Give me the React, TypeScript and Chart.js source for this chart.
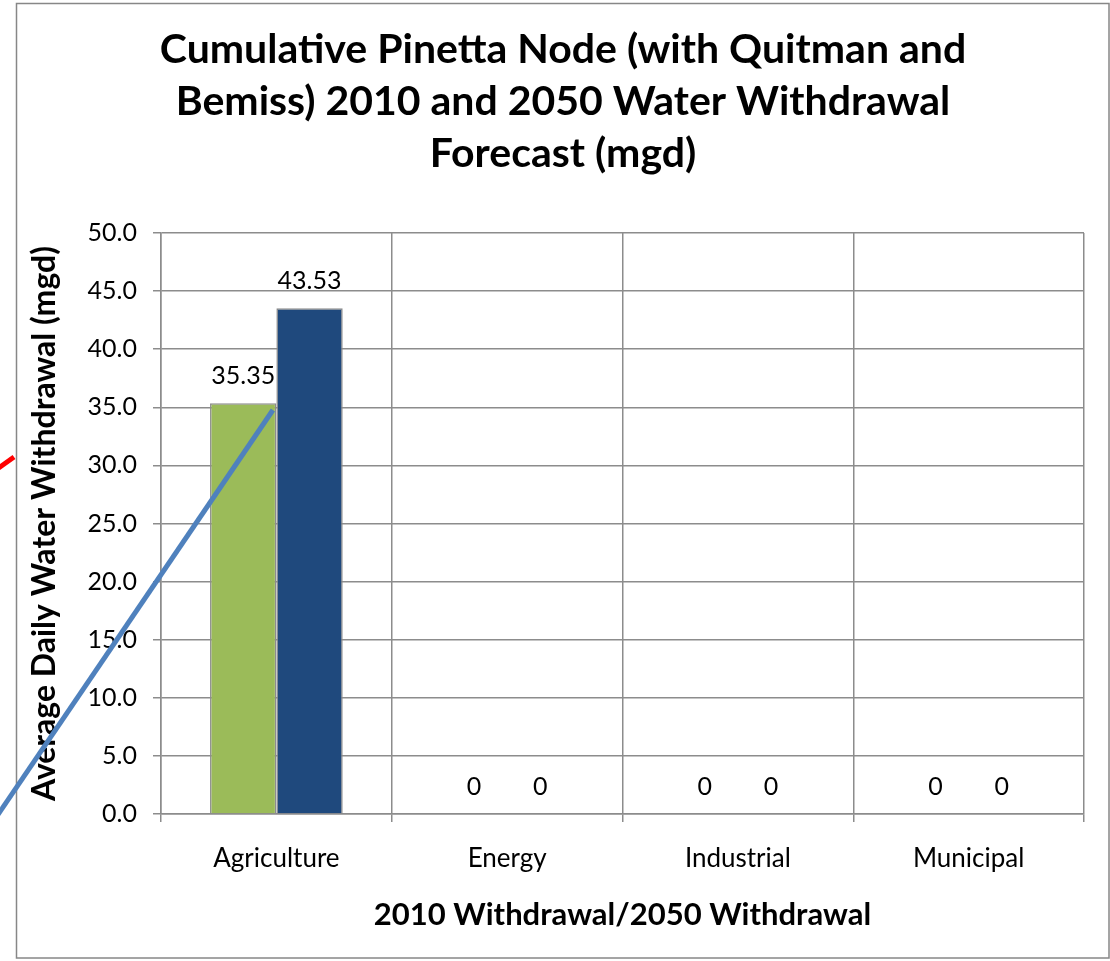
import React, { useEffect, useRef } from "react";
import { Chart, registerables } from "chart.js";

Chart.register(...registerables);

const TITLE_LINES = [
  "Cumulative Pinetta Node (with Quitman and",
  "Bemiss) 2010 and 2050 Water Withdrawal",
  "Forecast (mgd)",
];
const CATEGORIES = ["Agriculture", "Energy", "Industrial", "Municipal"];
const SERIES_2010 = [35.35, 0, 0, 0];
const SERIES_2050 = [43.53, 0, 0, 0];
const Y_MIN = 0;
const Y_MAX = 50;
const Y_STEP = 5;
const X_TITLE = "2010 Withdrawal/2050 Withdrawal";
const Y_TITLE = "Average Daily Water Withdrawal (mgd)";
// Overlay pointer strokes, in data space: [category index, value]
const BLUE_POINTER = [
  [-1.284, -2.32],
  [-0.015, 34.77],
];
const RED_POINTER = [
  [-1.241, 29.26],
  [-1.137, 30.72],
];

const GRID = "#8c8c8c";
const FONT = "Lato, 'Open Sans', sans-serif";

const frame = {
  id: "frame",
  beforeDraw(chart: any) {
    const ctx = chart.ctx;
    ctx.save();
    ctx.strokeStyle = "#878787";
    ctx.lineWidth = 1.5;
    ctx.strokeRect(16.5, 3.5, chart.width - 17.5, chart.height - 6.5);
    ctx.restore();
  },
};

const valueLabels = {
  id: "valueLabels",
  afterDatasetsDraw(chart: any) {
    const ctx = chart.ctx;
    ctx.save();
    ctx.font = `25px ${FONT}`;
    ctx.fillStyle = "#000";
    ctx.textAlign = "center";
    ctx.textBaseline = "middle";
    chart.data.datasets.forEach((ds: any, i: number) => {
      const meta = chart.getDatasetMeta(i);
      meta.data.forEach((bar: any, j: number) => {
        ctx.fillText(String(ds.data[j]), bar.x, bar.y - 27);
      });
    });
    ctx.restore();
  },
};

const pointers = {
  id: "pointers",
  afterDraw(chart: any) {
    const ctx = chart.ctx;
    const xs = chart.scales.x;
    const ys = chart.scales.y;
    const stroke = (pts: number[][], color: string) => {
      ctx.save();
      ctx.strokeStyle = color;
      ctx.lineWidth = 5;
      ctx.lineCap = "butt";
      ctx.beginPath();
      pts.forEach((p, k) => {
        const px = xs.getPixelForValue(p[0]);
        const py = ys.getPixelForValue(p[1]);
        if (k === 0) ctx.moveTo(px, py);
        else ctx.lineTo(px, py);
      });
      ctx.stroke();
      ctx.restore();
    };
    stroke(RED_POINTER, "#ff0000");
    stroke(BLUE_POINTER, "#4f81bd");
  },
};

export default function App() {
  const ref = useRef<HTMLCanvasElement>(null);

  useEffect(() => {
    document.body.style.margin = "0";
    const canvas = ref.current!;
    const chart = new Chart(canvas, {
      type: "bar",
      data: {
        labels: CATEGORIES,
        datasets: [
          {
            label: "2010 Withdrawal",
            data: SERIES_2010,
            backgroundColor: "#9bbb59",
            borderColor: GRID,
            borderWidth: 1.5,
            categoryPercentage: 0.575,
            barPercentage: 1,
          },
          {
            label: "2050 Withdrawal",
            data: SERIES_2050,
            backgroundColor: "#1f497d",
            borderColor: GRID,
            borderWidth: 1.5,
            categoryPercentage: 0.575,
            barPercentage: 1,
          },
        ],
      },
      options: {
        responsive: false,
        animation: false,
        devicePixelRatio: 1,
        layout: { padding: { left: 16, right: 0, top: 0, bottom: 0 } },
        plugins: {
          legend: { display: false },
          tooltip: { enabled: false },
          title: {
            display: true,
            text: TITLE_LINES,
            color: "#000",
            font: { family: FONT, size: 41, weight: "bold", lineHeight: 52 / 41 },
            padding: { top: 24, bottom: 53 },
          },
        },
        scales: {
          x: {
            afterFit(scale: any) {
              scale.height = 147;
            },
            grid: {
              display: true,
              offset: true,
              color: GRID,
              lineWidth: 1.5,
              tickLength: 8,
              tickColor: GRID,
            },
            border: { display: true, color: GRID, width: 1.5 },
            ticks: {
              color: "#000",
              font: { family: FONT, size: 26 },
              padding: 21,
              maxRotation: 0,
              autoSkip: false,
            },
            title: {
              display: true,
              text: X_TITLE,
              color: "#000",
              font: { family: FONT, size: 31, weight: "bold", lineHeight: 1.2 },
              padding: { top: 0, bottom: 27 },
            },
          },
          y: {
            min: Y_MIN,
            max: Y_MAX,
            afterFit(scale: any) {
              scale.width = 145;
            },
            grid: {
              color: GRID,
              lineWidth: 1.5,
              tickLength: 8,
              tickColor: GRID,
            },
            border: { display: true, color: GRID, width: 1.5 },
            ticks: {
              stepSize: Y_STEP,
              color: "#000",
              font: { family: FONT, size: 25 },
              padding: 16,
              callback: (v: any) => Number(v).toFixed(1),
            },
            title: {
              display: true,
              text: Y_TITLE,
              color: "#000",
              font: { family: FONT, size: 32, weight: "bold", lineHeight: 1.2 },
              padding: { top: 9, bottom: 0 },
            },
          },
          rightSpacer: {
            type: "linear",
            position: "right",
            display: true,
            afterFit(scale: any) {
              scale.width = 26;
            },
            grid: { display: false, drawTicks: false },
            border: { display: false },
            ticks: { display: false },
          },
        },
      },
      plugins: [frame, valueLabels, pointers],
    });
    return () => chart.destroy();
  }, []);

  return <canvas ref={ref} width={1110} height={961} style={{ display: "block" }} />;
}
